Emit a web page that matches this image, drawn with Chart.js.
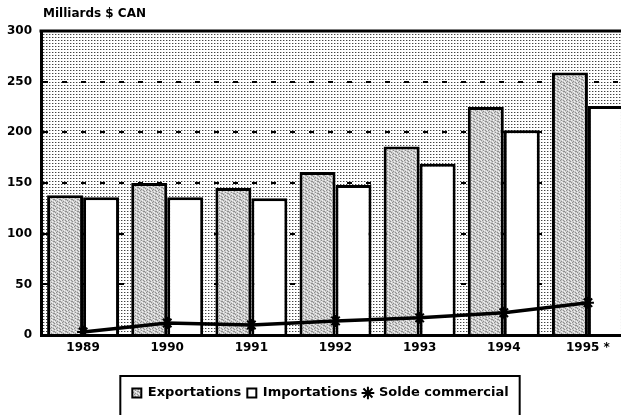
<!DOCTYPE html>
<html>
<head>
<meta charset="utf-8">
<script src="https://cdn.jsdelivr.net/npm/chart.js@4"></script>
<style>
  html, body { margin: 0; padding: 0; background: #fff; overflow: hidden; }
  #wrap { width: 638px; height: 415px; }
</style>
</head>
<body>
<div id="wrap"><canvas id="chart"></canvas></div>
<script>
// Commerce extérieur du Canada, milliards $ CAN
var years = ['1989', '1990', '1991', '1992', '1993', '1994', '1995 *'];
var exportations = [138, 150, 145, 161, 186, 225, 259];
var importations = [136, 136, 135, 148, 169, 202, 226];
var solde = [3, 12, 10, 14, 17, 22, 32];
var yTicks = [0, 50, 100, 150, 200, 250, 300];

// stipple of the plot background
function dotPattern() {
    var c = document.createElement('canvas');
    c.width = 3; c.height = 3;
    var g = c.getContext('2d');
    g.fillStyle = '#fff';
    g.fillRect(0, 0, 3, 3);
    g.fillStyle = '#444';
    g.fillRect(1, 1, 1, 1);
    g.fillStyle = '#b8b8b8';
    g.fillRect(2, 1, 1, 1);
    return g.createPattern(c, 'repeat');
}

// speckled grey of the export bars
function speckle() {
    var map = [
        '.o.x..',
        'x..o.x',
        '.x..o.',
        'o..x..',
        '.ox..x',
        'x...o.'
    ];
    var c = document.createElement('canvas');
    c.width = 6; c.height = 6;
    var g = c.getContext('2d');
    for (var y = 0; y < 6; y++) {
        for (var x = 0; x < 6; x++) {
            var ch = map[y][x];
            g.fillStyle = ch === 'x' ? '#8e8e8e' : (ch === 'o' ? '#f2f2f2' : '#cdcdcd');
            g.fillRect(x, y, 1, 1);
        }
    }
    return g.createPattern(c, 'repeat');
}

Chart.defaults.font.family = "'DejaVu Sans', sans-serif";
Chart.defaults.font.weight = 'bold';
Chart.defaults.color = '#000';

var decor = {
    id: 'decor',
    beforeDraw: function (chart) {
        var a = chart.chartArea, ctx = chart.ctx;
        ctx.save();
        ctx.fillStyle = dotPattern();
        ctx.fillRect(a.left, a.top, a.right - a.left, a.bottom - a.top);
        ctx.restore();
    },
    afterDraw: function (chart) {
        var a = chart.chartArea, ctx = chart.ctx;
        ctx.save();
        // top frame line
        ctx.strokeStyle = '#000';
        ctx.lineWidth = 3;
        ctx.beginPath();
        ctx.moveTo(a.left - 1.5, a.top);
        ctx.lineTo(a.right, a.top);
        ctx.stroke();
        // unit label
        ctx.fillStyle = '#000';
        ctx.font = "bold 12px 'DejaVu Sans'";
        ctx.textBaseline = 'middle';
        ctx.fillText('Milliards $ CAN', a.left + 2, a.top - 17);
        // frame round the legend
        var hb = chart.legend.legendHitBoxes;
        if (hb && hb.length) {
            var minL = Infinity, maxR = -Infinity;
            hb.forEach(function (h) {
                minL = Math.min(minL, h.left);
                maxR = Math.max(maxR, h.left + h.width);
            });
            var l = minL - 12, r = maxR + 11, t = hb[0].top - 10.5;
            ctx.lineWidth = 2;
            ctx.beginPath();
            ctx.moveTo(l, chart.height + 5);
            ctx.lineTo(l, t);
            ctx.lineTo(r, t);
            ctx.lineTo(r, chart.height + 5);
            ctx.stroke();
        }
        ctx.restore();
    }
};

new Chart(document.getElementById('chart'), {
    type: 'bar',
    data: {
        labels: years,
        datasets: [
            {
                label: 'Exportations',
                data: exportations,
                backgroundColor: speckle(),
                borderColor: '#000',
                borderWidth: 3,
                pointStyle: 'rect',
                order: 1
            },
            {
                label: 'Importations',
                data: importations,
                backgroundColor: '#fff',
                borderColor: '#000',
                borderWidth: 3,
                pointStyle: 'rect',
                order: 1
            },
            {
                type: 'line',
                label: 'Solde commercial',
                data: solde,
                borderColor: '#000',
                backgroundColor: '#000',
                borderWidth: 3.5,
                pointStyle: 'star',
                pointRadius: 6,
                pointBorderWidth: 2,
                tension: 0,
                order: 0
            }
        ]
    },
    options: {
        responsive: true,
        maintainAspectRatio: false,
        animation: false,
        datasets: {
            bar: { categoryPercentage: 0.855, barPercentage: 1.0 }
        },
        layout: { padding: { left: 5, right: 2, top: 31, bottom: 5.5 } },
        scales: {
            x: {
                grid: { display: false, drawTicks: false, tickLength: 0 },
                border: { display: true, color: '#000', width: 3 },
                ticks: { padding: 6, font: { size: 12, weight: 'bold' } },
                afterFit: function (scale) { scale.height += 19; }
            },
            y: {
                min: 0,
                max: 300,
                afterBuildTicks: function (scale) {
                    scale.ticks = yTicks.map(function (v) { return { value: v }; });
                },
                afterFit: function (scale) { scale.width = 36; },
                grid: {
                    drawTicks: false,
                    tickLength: 0,
                    lineWidth: 2,
                    color: function (c) {
                        var v = c.tick && c.tick.value;
                        return (v === 0 || v === 300) ? 'rgba(0,0,0,0)' : '#000';
                    }
                },
                border: { display: true, color: '#000', width: 3, dash: [5, 14] },
                ticks: { padding: 9, font: { size: 12, weight: 'bold' } }
            }
        },
        plugins: {
            legend: {
                position: 'bottom',
                labels: {
                    usePointStyle: true,
                    boxWidth: 9,
                    boxHeight: 9,
                    padding: 6,
                    color: '#000',
                    font: { size: 13, weight: 'bold' },
                    sort: function (a, b) { return a.datasetIndex - b.datasetIndex; },
                    generateLabels: function (chart) {
                        return Chart.defaults.plugins.legend.labels.generateLabels(chart).map(function (it) {
                            it.lineWidth = 2;
                            return it;
                        });
                    }
                }
            },
            tooltip: { enabled: false }
        }
    },
    plugins: [decor]
});
</script>
</body>
</html>
